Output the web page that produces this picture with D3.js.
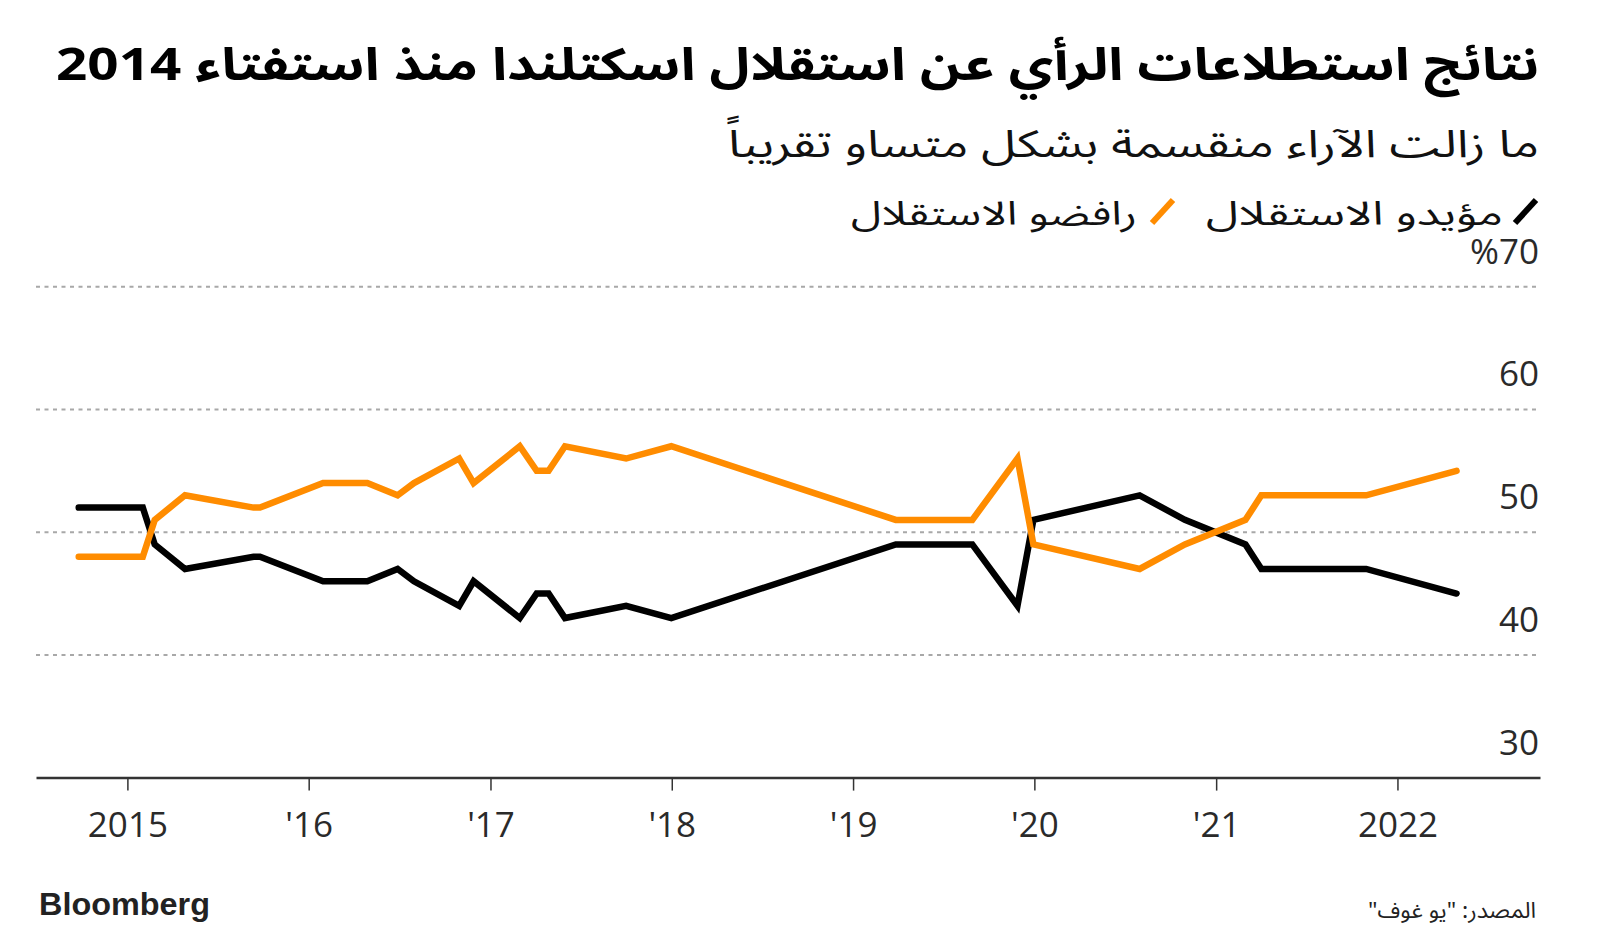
<!DOCTYPE html>
<html>
<head>
<meta charset="utf-8">
<script src="https://cdn.jsdelivr.net/npm/d3@7"></script>
<style>
  html, body { margin: 0; padding: 0; background: #fff; }
  svg { display: block; }
  .ar { font-family: "Noto Sans Arabic", "DejaVu Sans", sans-serif; }
  .num { font-family: "Open Sans", "Noto Sans", sans-serif; }
</style>
</head>
<body>
<svg id="chart" width="1600" height="941"></svg>
<script>
// ---------- data ----------
const pollDates = ["2014-09-25","2015-02-01","2015-02-25","2015-04-27","2015-09-12","2015-09-25",
  "2016-01-30","2016-04-28","2016-06-28","2016-07-31","2016-10-30","2016-11-28",
  "2017-03-01","2017-04-04","2017-04-28","2017-05-31","2017-10-01","2017-12-31",
  "2019-03-28","2019-08-29","2019-11-28","2019-12-30","2020-07-31","2020-10-30",
  "2021-03-01","2021-04-02","2021-10-30","2022-04-30"];
const yesValues = [52,52,49,47,48,48,46,46,47,46,44,46,43,45,45,43,44,43,49,49,44,51,53,51,49,47,47,45];
const noValues  = [48,48,51,53,52,52,54,54,53,54,56,54,57,55,55,57,56,57,51,51,56,49,47,49,51,53,53,55];
const seriesNames = ["مؤيدو الاستقلال", "رافضو الاستقلال"];
const seriesColors = ["#000000", "#ff8c00"];
const xTickYears = [2015, 2016, 2017, 2018, 2019, 2020, 2021, 2022];
const xTickLabels = ["2015", "'16", "'17", "'18", "'19", "'20", "'21", "2022"];
const yTickValues = [30, 40, 50, 60, 70];
const yTickLabels = ["30", "40", "50", "60", "%70"];
const titleText = "نتائج استطلاعات الرأي عن استقلال اسكتلندا منذ استفتاء 2014";
const subtitleText = "ما زالت الآراء منقسمة بشكل متساو تقريباً";
const sourceText = "المصدر: \"يو غوف\"";

// ---------- layout ----------
const svg = d3.select("#chart");
const plotLeft = 36, plotRight = 1540, plotTop = 286.7, plotBottom = 777.6;
const parse = d3.timeParse("%Y-%m-%d");

const x = d3.scaleTime()
  .domain([new Date(2014, 6, 1), new Date(2022, 9, 15)])
  .range([plotLeft, plotRight]);
const y = d3.scaleLinear().domain([30, 70]).range([plotBottom, plotTop]);

// gridlines
svg.append("g").selectAll("line")
  .data(yTickValues.filter(v => v !== 30))
  .join("line")
  .attr("x1", plotLeft).attr("x2", plotRight)
  .attr("y1", d => y(d)).attr("y2", d => y(d))
  .attr("stroke", "#a8a8a8").attr("stroke-width", 2)
  .attr("stroke-dasharray", "4,4.5");

// y labels
svg.append("g").selectAll("text")
  .data(yTickValues)
  .join("text")
  .attr("class", "num")
  .attr("x", plotRight - 1)
  .attr("y", d => y(d) - 23)
  .attr("text-anchor", "end")
  .attr("font-size", 35)
  .attr("fill", "#2a2a2a")
  .text((d, i) => yTickLabels[i]);

// x axis
const xAxis = d3.axisBottom(x)
  .tickValues(xTickYears.map(yr => new Date(yr, 0, 1)))
  .tickSize(13)
  .tickSizeOuter(0)
  .tickPadding(22)
  .tickFormat((d, i) => xTickLabels[i]);
const gx = svg.append("g").attr("transform", `translate(0,${plotBottom})`).call(xAxis);
gx.attr("font-family", null).attr("font-size", null);
gx.select(".domain").attr("stroke", "#333").attr("stroke-width", 2.5);
gx.selectAll(".tick line").attr("stroke", "#333").attr("stroke-width", 1.5);
gx.selectAll(".tick text")
  .attr("class", "num")
  .attr("font-size", 35)
  .attr("fill", "#2a2a2a")
  .attr("dy", "0.71em");

// lines
const seriesData = [yesValues, noValues].map(vals =>
  pollDates.map((d, i) => ({ date: parse(d), v: vals[i] })));
const line = d3.line().x(d => x(d.date)).y(d => y(d.v));
svg.append("g").selectAll("path")
  .data(seriesData)
  .join("path")
  .attr("d", line)
  .attr("fill", "none")
  .attr("stroke", (d, i) => seriesColors[i])
  .attr("stroke-width", 6.5)
  .attr("stroke-linejoin", "miter")
  .attr("stroke-miterlimit", 3)
  .attr("stroke-linecap", "round");

// title / subtitle
svg.append("text").attr("class", "ar")
  .attr("x", 1539).attr("y", 80)
  .attr("direction", "rtl").attr("text-anchor", "start")
  .attr("font-size", 45).attr("font-weight", "bold").attr("fill", "#000")
  .attr("textLength", 1483).attr("lengthAdjust", "spacingAndGlyphs")
  .text(titleText);
svg.append("text").attr("class", "ar")
  .attr("x", 1539).attr("y", 157)
  .attr("direction", "rtl").attr("text-anchor", "start")
  .attr("font-size", 38).attr("fill", "#111")
  .attr("textLength", 811).attr("lengthAdjust", "spacingAndGlyphs")
  .text(subtitleText);

// legend
const legendPos = [
  { sx: 1515, tx: 1503, w: 297 },
  { sx: 1152, tx: 1137, w: 286 }
];
const lg = svg.append("g");
legendPos.forEach((p, i) => {
  lg.append("line")
    .attr("x1", p.sx).attr("y1", 223).attr("x2", p.sx + 21).attr("y2", 200)
    .attr("stroke", seriesColors[i]).attr("stroke-width", 6);
  lg.append("text").attr("class", "ar")
    .attr("x", p.tx).attr("y", 225)
    .attr("direction", "rtl").attr("text-anchor", "start")
    .attr("font-size", 33).attr("fill", "#111")
    .attr("textLength", p.w).attr("lengthAdjust", "spacingAndGlyphs")
    .text(seriesNames[i]);
});

// footer
svg.append("text")
  .attr("x", 39).attr("y", 915)
  .attr("font-family", "'Liberation Sans', Arial, sans-serif")
  .attr("font-weight", "bold").attr("font-size", 31).attr("fill", "#222")
  .attr("textLength", 171).attr("lengthAdjust", "spacingAndGlyphs")
  .text("Bloomberg");
svg.append("text").attr("class", "ar")
  .attr("x", 1536).attr("y", 918)
  .attr("direction", "rtl").attr("text-anchor", "start")
  .attr("font-size", 22).attr("fill", "#222")
  .attr("textLength", 168).attr("lengthAdjust", "spacingAndGlyphs")
  .text(sourceText);
</script>
</body>
</html>
